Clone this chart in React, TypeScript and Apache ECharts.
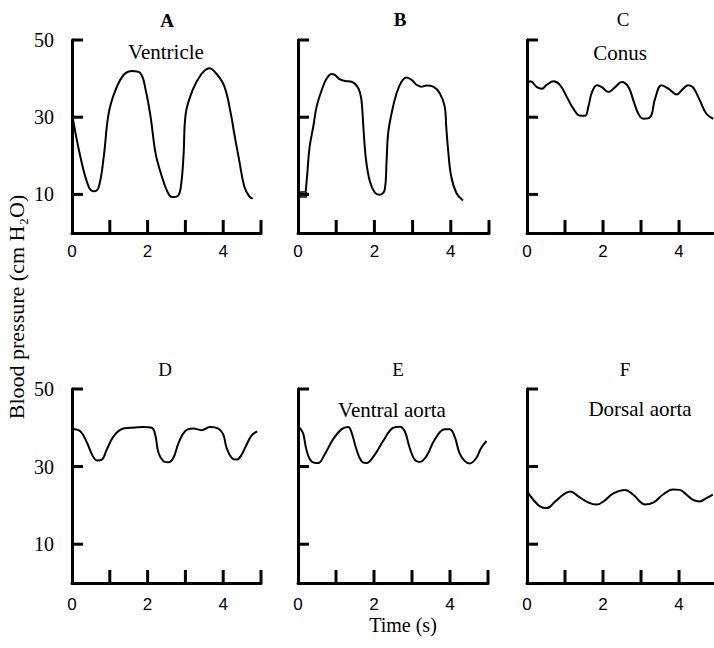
import React, { useEffect, useRef } from "react";
import * as echarts from "echarts";

// ---- Data (time in s, pressure in cm H2O) ----
const panelLetters = ["A", "B", "C", "D", "E", "F"];
const panelNames = ["Ventricle", "", "Conus", "", "Ventral aorta", "Dorsal aorta"];
const yTickValues = [10, 30, 50];
const xTickValues = [1, 2, 3, 4, 5];
const xLabelValues = [0, 2, 4];

const timeA = [0, 0.22, 0.44, 0.58, 0.71, 0.84, 0.97, 1.15, 1.37, 1.59, 1.81, 1.95, 2.08, 2.21, 2.35, 2.52, 2.65, 2.8, 2.88, 2.95, 3.01, 3.19, 3.41, 3.63, 3.81, 4.03, 4.2, 4.29, 4.42, 4.56, 4.69, 4.78];
const pressA = [31, 19.8, 12, 10.8, 12, 19.8, 31, 37, 41, 42, 41.4, 37, 30, 20.7, 15.5, 10.8, 9.3, 9.6, 12, 20, 31, 37, 41, 42.7, 41.4, 38, 31, 25.9, 19, 12, 9.5, 8.9];

const timeB = [0.2, 0.24, 0.3, 0.4, 0.49, 0.62, 0.75, 0.88, 0.97, 1.1, 1.23, 1.4, 1.58, 1.66, 1.71, 1.78, 1.88, 2.01, 2.14, 2.27, 2.32, 2.36, 2.45, 2.58, 2.71, 2.84, 2.97, 3.1, 3.23, 3.36, 3.54, 3.71, 3.84, 3.88, 3.93, 4.01, 4.15, 4.32];
const pressB = [10.6, 15, 22, 27.6, 32.8, 37, 40, 41.2, 40.9, 39.8, 39.4, 39.2, 37.5, 34.5, 27.6, 19, 13.4, 10.5, 9.9, 11.2, 19, 25.9, 31, 36.2, 39.2, 40.3, 39.7, 38.4, 37.9, 38.2, 37.9, 36.2, 32.8, 27.6, 21.5, 14.7, 10.3, 8.4];
const timeBStart = [0.2, 0.05, 0.05, 0.22, 0.22];
const pressBStart = [10.6, 10.6, 9.3, 9.3, 10.6];

const timeC = [0, 0.09, 0.26, 0.39, 0.52, 0.7, 0.87, 1.05, 1.22, 1.4, 1.53, 1.62, 1.71, 1.84, 1.97, 2.14, 2.32, 2.49, 2.67, 2.8, 2.93, 3.06, 3.24, 3.37, 3.54, 3.72, 3.94, 4.11, 4.24, 4.37, 4.55, 4.72, 4.9];
const pressC = [38.4, 39.3, 37.8, 37.4, 38.4, 39.3, 38.3, 35.2, 32.2, 30.4, 30.4, 33, 36.5, 38.3, 37.8, 36.5, 37.8, 39.1, 37.8, 34.3, 30.9, 29.6, 30, 34.8, 38.3, 37.4, 35.9, 37.4, 38.3, 37.7, 34.3, 30.9, 29.6];

const timeD = [0, 0.22, 0.4, 0.53, 0.66, 0.79, 0.92, 1.1, 1.32, 1.54, 1.89, 2.11, 2.2, 2.29, 2.42, 2.55, 2.68, 2.82, 2.99, 3.21, 3.43, 3.65, 3.87, 4.0, 4.09, 4.23, 4.36, 4.49, 4.62, 4.75, 4.9];
const pressD = [39.7, 39.1, 36.1, 33.1, 31.6, 31.8, 34.4, 37.8, 39.7, 40, 40.2, 40, 38.3, 33.5, 31.4, 31.1, 32.2, 36.1, 39.1, 39.8, 39.4, 40.2, 39.8, 38.3, 34.8, 32.2, 31.8, 33.1, 35.7, 38, 39.1];

const timeE = [0, 0.13, 0.22, 0.35, 0.53, 0.7, 0.92, 1.14, 1.32, 1.4, 1.54, 1.67, 1.8, 2.02, 2.24, 2.5, 2.68, 2.81, 2.94, 3.07, 3.2, 3.38, 3.6, 3.86, 3.99, 4.12, 4.25, 4.39, 4.52, 4.69, 4.82, 4.96];
const pressE = [40.4, 38.7, 34.4, 31.4, 30.9, 33.1, 37, 39.6, 40.2, 39.1, 34.4, 31.4, 30.9, 33.1, 36.6, 40, 40.3, 39.1, 34.8, 31.8, 31.2, 32.7, 37, 39.6, 39.6, 37.8, 33.5, 31.4, 30.8, 32.2, 34.8, 36.6];

const timeF = [0, 0.17, 0.35, 0.52, 0.74, 0.96, 1.14, 1.35, 1.62, 1.83, 2.01, 2.27, 2.58, 2.79, 2.97, 3.1, 3.32, 3.58, 3.84, 4.02, 4.19, 4.37, 4.54, 4.72, 4.89];
const pressF = [23.6, 21.4, 19.7, 19.3, 21, 22.8, 23.6, 22.3, 20.7, 20.2, 21, 23.1, 24, 22.8, 21, 20.2, 20.7, 22.8, 24.1, 24, 22.8, 21.4, 21, 21.9, 22.8];

const panelTimes = [timeA, timeB, timeC, timeD, timeE, timeF];
const panelPress = [pressA, pressB, pressC, pressD, pressE, pressF];
// right-hand panels are cut off by the picture edge just before t = 5
const panelXMax = [5, 5, 4.92, 5, 5, 4.92];
const Y_MAX = 50;

const SERIF = "'Liberation Serif', 'Times New Roman', serif";
const SANS = "'Liberation Sans', Arial, sans-serif";

// layout (page pixels)
const gridBoxes = [
  { left: 72, top: 40, width: 189, height: 193 },
  { left: 298, top: 40, width: 191, height: 193 },
  { left: 527, top: 40, width: 187, height: 193 },
  { left: 72, top: 389, width: 189, height: 194 },
  { left: 298, top: 389, width: 190, height: 194 },
  { left: 527, top: 389, width: 187, height: 194 },
];
// non-overlapping boxes, one chart instance per panel
const panelDivs = [
  { left: 30, top: 0, width: 255, height: 300 },
  { left: 285, top: 0, width: 229, height: 300 },
  { left: 514, top: 0, width: 200, height: 300 },
  { left: 30, top: 300, width: 255, height: 348 },
  { left: 285, top: 300, width: 229, height: 348 },
  { left: 514, top: 300, width: 200, height: 348 },
];
const titleDiv = { left: 0, top: 0, width: 30, height: 648 };
const letterPos = [
  [167, 20], [400, 19], [623, 19], [165, 369], [398, 369], [625, 369],
];
const namePos = [
  [166, 52], [0, 0], [620, 53], [0, 0], [392, 410], [640, 409],
];
const timeTitlePos = [403, 625];
const Y_TICK_PX = 11;
const X_TICK_PX = 13;

function zip(t: number[], v: number[]) {
  return t.map((x, i) => [x, v[i]]);
}

function centeredText(text: string, x: number, y: number, size: number, bold = false, rotation = 0) {
  return {
    type: "text",
    x,
    y,
    rotation,
    style: {
      text,
      fontFamily: SERIF,
      fontSize: size,
      fontWeight: bold ? "bold" : "normal",
      fill: "#000",
      align: "center",
      verticalAlign: "middle",
    },
  };
}

function panelOption(i: number) {
  const d = panelDivs[i];
  const g = gridBoxes[i];
  const xMax = panelXMax[i];
  const xPerPx = xMax / g.width;
  const yPerPx = Y_MAX / g.height;
  const series: any[] = [
    {
      type: "line",
      data: zip(panelTimes[i], panelPress[i]),
      showSymbol: false,
      smooth: 0.4,
      lineStyle: { color: "#000", width: 2 },
    },
  ];
  if (i === 1) {
    series.push({
      type: "line",
      data: zip(timeBStart, pressBStart),
      showSymbol: false,
      smooth: false,
      lineStyle: { color: "#000", width: 1.5 },
    });
  }
  // inward tick marks, as short segments on the panel's own scales
  const tickStyle = { color: "#000", width: 3, cap: "butt" };
  yTickValues.forEach((v) => {
    series.push({
      type: "line",
      data: [[0, v], [Y_TICK_PX * xPerPx, v]],
      showSymbol: false,
      clip: false,
      lineStyle: tickStyle,
    });
  });
  xTickValues
    .filter((v) => v <= xMax)
    .forEach((v) => {
      series.push({
        type: "line",
        data: [[v, 0], [v, X_TICK_PX * yPerPx]],
        showSymbol: false,
        clip: false,
        lineStyle: tickStyle,
      });
    });
  const graphic: any[] = [
    centeredText(panelLetters[i], letterPos[i][0] - d.left, letterPos[i][1] - d.top, 19, i < 2),
  ];
  if (panelNames[i]) {
    graphic.push(centeredText(panelNames[i], namePos[i][0] - d.left, namePos[i][1] - d.top, 21));
  }
  if (i === 4) {
    graphic.push(centeredText("Time (s)", timeTitlePos[0] - d.left, timeTitlePos[1] - d.top, 20));
  }
  return {
    animation: false,
    backgroundColor: "#fff",
    grid: [
      {
        left: g.left - d.left,
        top: g.top - d.top,
        width: g.width,
        height: g.height,
        containLabel: false,
      },
    ],
    xAxis: [
      {
        type: "value",
        min: 0,
        max: xMax,
        interval: 1,
        axisLine: { show: true, lineStyle: { color: "#000", width: 3 } },
        axisTick: { show: false },
        axisLabel: {
          show: true,
          showMaxLabel: false,
          formatter: (v: number) => (xLabelValues.indexOf(v) >= 0 ? String(v) : ""),
          color: "#000",
          fontFamily: SANS,
          fontSize: 17,
          margin: i < 3 ? 10 : 13,
        },
        splitLine: { show: false },
      },
    ],
    yAxis: [
      {
        type: "value",
        min: 0,
        max: Y_MAX,
        axisLine: { show: true, lineStyle: { color: "#000", width: 3 } },
        axisTick: { show: false },
        axisLabel: {
          show: i === 0 || i === 3,
          customValues: yTickValues,
          color: "#000",
          fontFamily: SERIF,
          fontSize: 20,
          margin: 18,
        },
        splitLine: { show: false },
      },
    ],
    series,
    graphic,
  };
}

function titleOption() {
  return {
    animation: false,
    backgroundColor: "#fff",
    graphic: [centeredText("Blood pressure (cm H₂O)", 16 - titleDiv.left, 307 - titleDiv.top, 22, false, Math.PI / 2)],
  };
}

function Layer({ box, build }: { box: { left: number; top: number; width: number; height: number }; build: () => any }) {
  const ref = useRef<HTMLDivElement>(null);
  useEffect(() => {
    if (!ref.current) return;
    const chart = echarts.init(ref.current, null, { renderer: "svg" });
    chart.setOption(build());
    return () => chart.dispose();
  }, []);
  return (
    <div
      ref={ref}
      style={{ position: "absolute", left: box.left, top: box.top, width: box.width, height: box.height }}
    />
  );
}

export default function App() {
  return (
    <div style={{ position: "absolute", left: 0, top: 0, width: 714, height: 648, background: "#fff" }}>
      <Layer box={titleDiv} build={titleOption} />
      {panelLetters.map((_, i) => (
        <Layer key={i} box={panelDivs[i]} build={() => panelOption(i)} />
      ))}
    </div>
  );
}
